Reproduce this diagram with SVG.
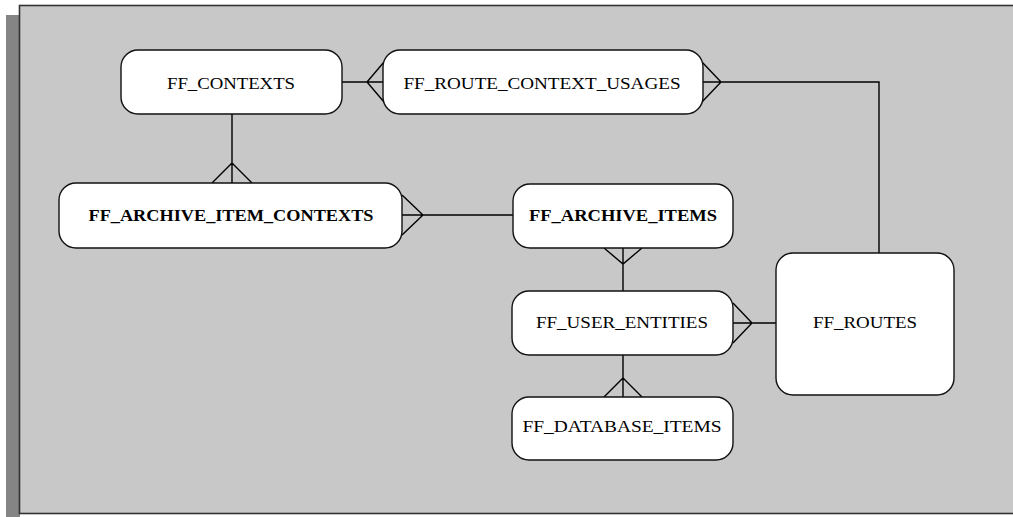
<svg xmlns="http://www.w3.org/2000/svg" width="1013" height="517" viewBox="0 0 1013 517">
<style>
.ent rect{fill:#ffffff;stroke:#111111;stroke-width:1.4}
.ent text{font-family:"Liberation Serif","Times New Roman",serif;font-size:16px;fill:#000000;text-anchor:middle}
.ent text.b{font-weight:bold}
#connectors path{fill:none;stroke:#000000;stroke-width:1.4}
</style>
<rect x="0" y="0" width="1013" height="517" fill="#ffffff"/>
<rect x="6" y="15" width="14" height="502" fill="#858585"/>
<rect x="19.5" y="5.5" width="1000" height="508" fill="#c8c8c8" stroke="#333333" stroke-width="1.6"/>
<g id="connectors">
<!-- FF_CONTEXTS to FF_ROUTE_CONTEXT_USAGES -->
<path d="M342 82 H383 M384 62 L367 82 L384 102"/>
<!-- FF_ROUTE_CONTEXT_USAGES to FF_ROUTES -->
<path d="M703 82 H879 V253 M702 62 L721 82 L702 102"/>
<!-- FF_CONTEXTS to FF_ARCHIVE_ITEM_CONTEXTS -->
<path d="M232 114 V183 M212 183 L232 163 L252 183"/>
<!-- FF_ARCHIVE_ITEM_CONTEXTS to FF_ARCHIVE_ITEMS -->
<path d="M402 215 H513 M402 195 L423 215 L402 235"/>
<!-- FF_ARCHIVE_ITEMS to FF_USER_ENTITIES -->
<path d="M623 248 V291 M604 248 L623 264 L642 248"/>
<!-- FF_USER_ENTITIES to FF_ROUTES -->
<path d="M733 323 H776 M733 303 L752 323 L733 343"/>
<!-- FF_USER_ENTITIES to FF_DATABASE_ITEMS -->
<path d="M623 355 V397 M604 397 L623 378 L642 397"/>
</g>
<g id="ff_contexts" class="ent">
<rect x="121" y="50" width="221" height="64" rx="17"/>
<text x="231" y="89" textLength="128" lengthAdjust="spacingAndGlyphs">FF_CONTEXTS</text>
</g>
<g id="ff_route_context_usages" class="ent">
<rect x="383" y="50" width="320" height="64" rx="17"/>
<text x="542" y="89" textLength="277" lengthAdjust="spacingAndGlyphs">FF_ROUTE_CONTEXT_USAGES</text>
</g>
<g id="ff_archive_item_contexts" class="ent">
<rect x="59" y="183" width="343" height="65" rx="17"/>
<text class="b" x="231" y="221" textLength="285" lengthAdjust="spacingAndGlyphs">FF_ARCHIVE_ITEM_CONTEXTS</text>
</g>
<g id="ff_archive_items" class="ent">
<rect x="513" y="184" width="220" height="64" rx="17"/>
<text class="b" x="623" y="221" textLength="188" lengthAdjust="spacingAndGlyphs">FF_ARCHIVE_ITEMS</text>
</g>
<g id="ff_user_entities" class="ent">
<rect x="512" y="291" width="221" height="64" rx="17"/>
<text x="622" y="328" textLength="172" lengthAdjust="spacingAndGlyphs">FF_USER_ENTITIES</text>
</g>
<g id="ff_database_items" class="ent">
<rect x="512" y="397" width="221" height="63" rx="17"/>
<text x="622" y="432" textLength="199" lengthAdjust="spacingAndGlyphs">FF_DATABASE_ITEMS</text>
</g>
<g id="ff_routes" class="ent">
<rect x="776" y="253" width="178" height="142" rx="17"/>
<text x="865" y="328" textLength="104" lengthAdjust="spacingAndGlyphs">FF_ROUTES</text>
</g>
</svg>
